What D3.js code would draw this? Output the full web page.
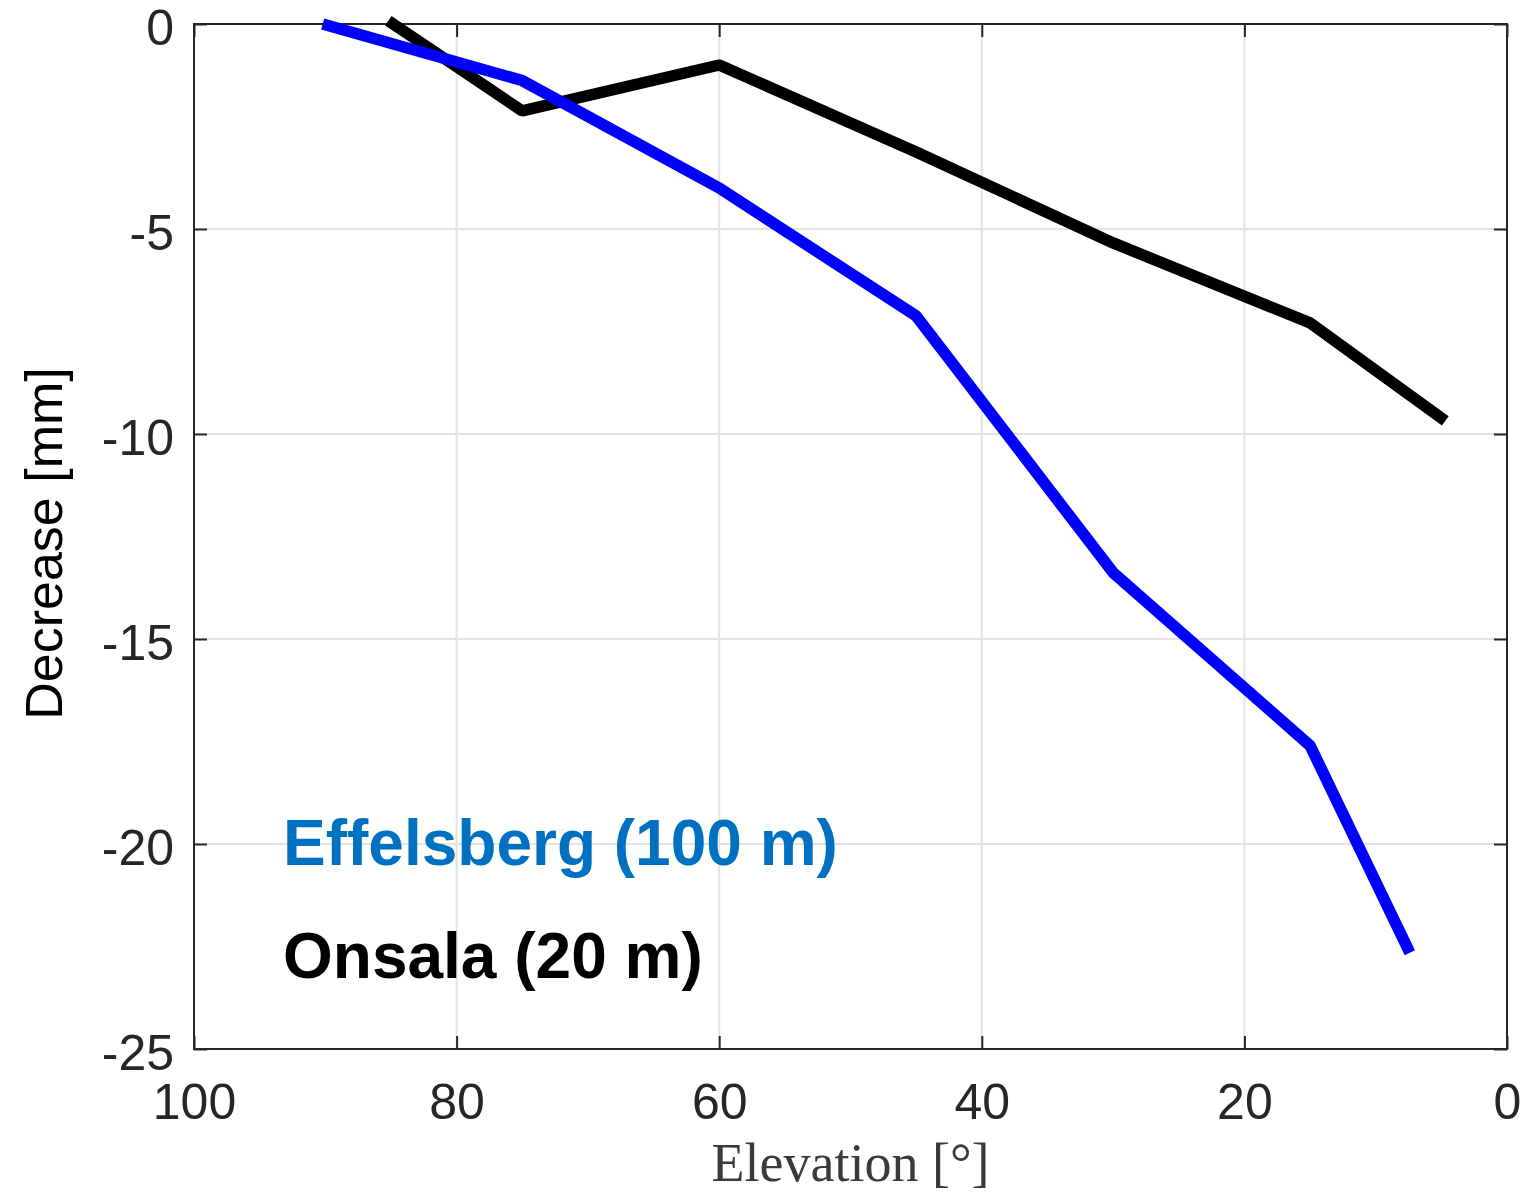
<!DOCTYPE html>
<html>
<head>
<meta charset="utf-8">
<script src="https://cdn.jsdelivr.net/npm/d3@7"></script>
<style>
  html, body { margin: 0; padding: 0; background: #fff; }
  svg { display: block; }
  .tick text { font-family: Arial, "Liberation Sans", sans-serif; fill: #262626; }
</style>
</head>
<body>
<svg id="chart" width="1526" height="1194"></svg>
<script>
// elevation in degrees, decrease in mm
const effelsbergElev = [90.2, 75, 60, 45, 30, 15, 7.4];
const effelsbergDec = [0, -1.38, -4.0, -7.12, -13.38, -17.6, -22.65];
const onsalaElev = [85.2, 75, 60, 45, 30, 15, 4.7];
const onsalaDec = [0.08, -2.12, -1.0, -3.12, -5.34, -7.29, -9.68];

const xTicks = [100, 80, 60, 40, 20, 0];
const yTicks = [0, -5, -10, -15, -20, -25];

const plotL = 194, plotR = 1507, plotT = 24, plotB = 1049;

const svg = d3.select("#chart");

const x = d3.scaleLinear().domain([100, 0]).range([plotL, plotR]);
const y = d3.scaleLinear().domain([-25, 0]).range([plotB, plotT]);

// grid
const grid = svg.append("g").attr("stroke", "#e3e3e3").attr("stroke-width", 2);
grid.selectAll("line.gx")
  .data(xTicks.slice(1, -1))
  .join("line")
  .attr("class", "gx")
  .attr("x1", (d) => x(d)).attr("x2", (d) => x(d))
  .attr("y1", plotT).attr("y2", plotB);
grid.selectAll("line.gy")
  .data(yTicks.slice(1, -1))
  .join("line")
  .attr("class", "gy")
  .attr("x1", plotL).attr("x2", plotR)
  .attr("y1", (d) => y(d)).attr("y2", (d) => y(d));

// axes with inward ticks
const fmt = (d) => String(d);
const xAxis = svg.append("g")
  .attr("transform", `translate(0,${plotB})`)
  .call(d3.axisBottom(x).tickValues(xTicks).tickSize(-13).tickPadding(34).tickFormat(fmt));
const xAxisTop = svg.append("g")
  .attr("transform", `translate(0,${plotT})`)
  .call(d3.axisTop(x).tickValues(xTicks).tickSize(-13).tickFormat(""));
const yAxis = svg.append("g")
  .attr("transform", `translate(${plotL},0)`)
  .call(d3.axisLeft(y).tickValues(yTicks).tickSize(-13).tickPadding(20).tickFormat(fmt));
const yAxisRight = svg.append("g")
  .attr("transform", `translate(${plotR},0)`)
  .call(d3.axisRight(y).tickValues(yTicks).tickSize(-13).tickFormat(""));

[xAxis, xAxisTop, yAxis, yAxisRight].forEach((ax) => {
  ax.select(".domain").remove();
  ax.selectAll(".tick line").attr("stroke", "#262626").attr("stroke-width", 2);
  ax.selectAll(".tick text").attr("font-size", 50);
});
yAxis.selectAll(".tick text").attr("dy", "0.4em");

svg.append("rect")
  .attr("x", plotL).attr("y", plotT)
  .attr("width", plotR - plotL).attr("height", plotB - plotT)
  .attr("fill", "none").attr("stroke", "#262626").attr("stroke-width", 2);

// series
const line = d3.line().x((d) => x(d[0])).y((d) => y(d[1]));
const series = [
  { elev: onsalaElev, dec: onsalaDec, color: "#000000" },
  { elev: effelsbergElev, dec: effelsbergDec, color: "#0000ff" },
];
svg.selectAll("path.series")
  .data(series)
  .join("path")
  .attr("class", "series")
  .attr("fill", "none")
  .attr("stroke", (d) => d.color)
  .attr("stroke-width", 11.5)
  .attr("stroke-linejoin", "bevel")
  .attr("d", (d) => line(d.elev.map((e, i) => [e, d.dec[i]])));

// axis labels
svg.append("text")
  .attr("transform", `translate(62,${(365 + 722) / 2}) rotate(-90)`)
  .attr("text-anchor", "middle")
  .attr("font-family", "Arial, 'Liberation Sans', sans-serif")
  .attr("font-size", 52)
  .attr("fill", "#000")
  .text("Decrease [mm]");

svg.append("text")
  .attr("x", (plotL + plotR) / 2)
  .attr("y", 1181)
  .attr("text-anchor", "middle")
  .attr("font-family", "'Liberation Serif', 'DejaVu Serif', serif")
  .attr("font-size", 54)
  .attr("fill", "#3a3a3a")
  .text("Elevation [°]");

// labels in plot
svg.append("text")
  .attr("x", 283).attr("y", 865)
  .attr("font-family", "Arial, 'Liberation Sans', sans-serif")
  .attr("font-weight", "bold")
  .attr("font-size", 64)
  .attr("fill", "#0070c0")
  .text("Effelsberg (100 m)");
svg.append("text")
  .attr("x", 283).attr("y", 978)
  .attr("font-family", "Arial, 'Liberation Sans', sans-serif")
  .attr("font-weight", "bold")
  .attr("font-size", 64)
  .attr("fill", "#000")
  .text("Onsala (20 m)");
</script>
</body>
</html>
